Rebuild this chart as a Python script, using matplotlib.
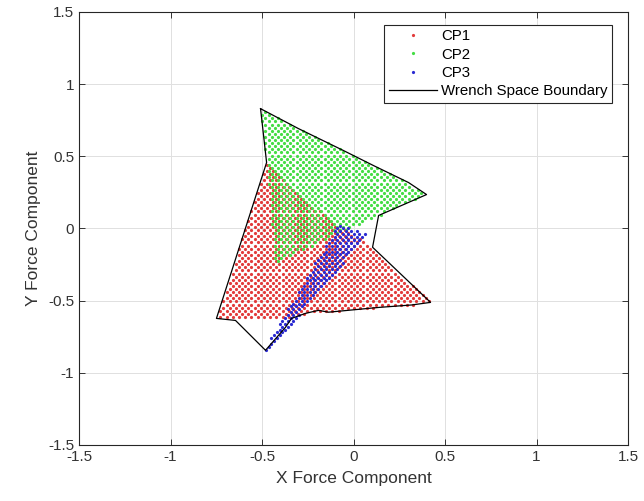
import numpy as np
import matplotlib
matplotlib.use('Agg')
import matplotlib.pyplot as plt
from matplotlib.path import Path

plt.rcParams['font.family'] = ['Liberation Sans', 'DejaVu Sans']

# region outlines (force components)
cp1_x = [-0.749, -0.475, -0.15, 0.104, 0.421, 0.317, 0.137, -0.137, -0.262, -0.35, -0.749]
cp1_y = [-0.623, 0.457, 0.08, -0.13, -0.512, -0.53, -0.547, -0.58, -0.59, -0.62, -0.623]

cp2_x = [-0.508, -0.301, -0.055, 0.109, 0.301, 0.399, 0.137, -0.43, -0.475]
cp2_y = [0.830, 0.692, 0.540, 0.436, 0.318, 0.235, 0.09, -0.24, 0.457]

cp3_x = [-0.495, -0.08, 0.075, -0.46]
cp3_y = [-0.850, 0.035, -0.040, -0.845]

# wrench space boundary
wsb_x = [-0.508, -0.301, -0.055, 0.109, 0.301, 0.399, 0.137, 0.104, 0.421, 0.317, 0.137,
         -0.137, -0.191, -0.262, -0.339, -0.372, -0.481, -0.645, -0.749, -0.475, -0.508]
wsb_y = [0.830, 0.692, 0.540, 0.436, 0.318, 0.235, 0.09, -0.13, -0.512, -0.53, -0.547,
         -0.58, -0.567, -0.588, -0.623, -0.685, -0.844, -0.637, -0.623, 0.457, 0.830]

# sample spacing of the dot lattice
dx = 0.034
dy = 0.0215


def lattice(px, py, step_x=dx, step_y=dy, shift=0.0):
    """staggered grid of points inside a polygon"""
    path = Path(np.column_stack([px, py]))
    ys = np.arange(-1.0, 1.0, step_y)
    pts = []
    for i, yy in enumerate(ys):
        off = (i % 2) * step_x / 2 + shift
        xs = np.arange(-1.0 + off, 1.0, step_x)
        pts.append(np.column_stack([xs, np.full_like(xs, yy)]))
    pts = np.vstack(pts)
    return pts[path.contains_points(pts)]


p1 = lattice(cp1_x, cp1_y)
p2 = lattice(cp2_x, cp2_y, shift=dx / 4)
p3 = lattice(cp3_x, cp3_y, step_x=0.03, step_y=0.02, shift=dx / 3)

fig = plt.figure(figsize=(6.44, 5.01), dpi=100)
ax = fig.add_axes([0.1227, 0.1118, 0.8525, 0.8643])

ms = 2.3
ax.plot(p1[:, 0], p1[:, 1], 'o', color='#e23b3b', markersize=ms, markeredgewidth=0, label='CP1')
ax.plot(p2[:, 0], p2[:, 1], 'o', color='#44dd44', markersize=ms, markeredgewidth=0, label='CP2')
ax.plot(p3[:, 0], p3[:, 1], 'o', color='#2a2ad2', markersize=ms, markeredgewidth=0, label='CP3')
ax.plot(wsb_x, wsb_y, color='black', linewidth=0.9, label='Wrench Space Boundary')

ax.set_xlim(-1.5, 1.5)
ax.set_ylim(-1.5, 1.5)
ticks = [-1.5, -1, -0.5, 0, 0.5, 1, 1.5]
tick_labels = ['-1.5', '-1', '-0.5', '0', '0.5', '1', '1.5']
ax.set_xticks(ticks)
ax.set_xticklabels(tick_labels)
ax.set_yticks(ticks)
ax.set_yticklabels(tick_labels)
ax.grid(True, color='#e0e0e0', linewidth=0.7)
ax.set_axisbelow(True)
ax.tick_params(direction='in', top=True, right=True, length=4, labelsize=11,
               colors='#333333', width=0.7)
for sp in ax.spines.values():
    sp.set_color('#262626')
    sp.set_linewidth(0.8)
ax.set_xlabel('X Force Component', fontsize=12.5, color='#333333', labelpad=5)
ax.set_ylabel('Y Force Component', fontsize=12.5, color='#333333', labelpad=5)

leg = ax.legend(loc='upper right', bbox_to_anchor=(0.971, 0.970), fontsize=10.8,
                handlelength=3.2, handletextpad=0.3, labelspacing=0.28, borderpad=0.3,
                borderaxespad=0, fancybox=False, markerscale=1.0)
leg.get_frame().set_edgecolor('#262626')
leg.get_frame().set_linewidth(0.8)
leg.get_frame().set_alpha(1)

fig.savefig('out.png', dpi=100)
